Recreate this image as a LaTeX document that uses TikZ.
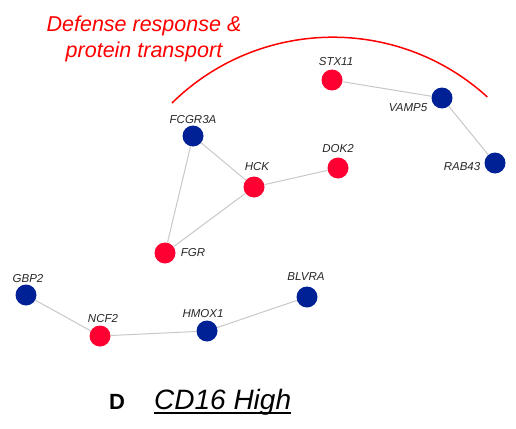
\documentclass[tikz,border=0pt]{standalone}
\usepackage{fontspec}
\setmainfont{Liberation Sans}
\definecolor{nred}{RGB}{255,0,51}
\definecolor{nblue}{RGB}{0,32,150}
\definecolor{edgegray}{RGB}{200,200,200}
\definecolor{titlered}{RGB}{255,0,0}
\begin{document}
\begin{tikzpicture}[x=1pt,y=-1pt,
  gene/.style={circle,minimum size=21pt,inner sep=0pt},
  upg/.style={gene,fill=nred},
  dng/.style={gene,fill=nblue},
  lbl/.style={font=\fontsize{11.5}{13}\selectfont\itshape,text=black!85,inner sep=0pt,anchor=center},
  link/.style={draw=edgegray,line width=1pt},
  ttl/.style={font=\fontsize{21.5}{26}\selectfont\itshape,text=titlered,inner sep=0pt,anchor=base}]
\useasboundingbox (0,0) rectangle (516,428);

% title and bracket arc
\node[ttl] (t1) at (144,32) {Defense response \&};
\node[ttl] (t2) at (144,58) {protein transport};
\coordinate (arcstart) at (172,103);
\draw[titlered,line width=1.5pt] (arcstart) arc[start angle=134.5,end angle=47.7,radius=229.5pt];

% nodes
\node[upg] (stx11) at (332,80) {};
\node[dng] (vamp5) at (442,98) {};
\node[dng] (rab43) at (495,163) {};
\node[dng] (fcgr3a) at (193,136) {};
\node[upg] (hck) at (254,187) {};
\node[upg] (dok2) at (338,168) {};
\node[upg] (fgr) at (165,253) {};
\node[dng] (gbp2) at (26,295) {};
\node[upg] (ncf2) at (100,336) {};
\node[dng] (hmox1) at (207,331) {};
\node[dng] (blvra) at (307,297) {};

% edges
\draw[link] (stx11) -- (vamp5);
\draw[link] (vamp5) -- (rab43);
\draw[link] (fcgr3a) -- (hck);
\draw[link] (fcgr3a) -- (fgr);
\draw[link] (hck) -- (fgr);
\draw[link] (hck) -- (dok2);
\draw[link] (gbp2) -- (ncf2);
\draw[link] (ncf2) -- (hmox1);
\draw[link] (hmox1) -- (blvra);

% labels
\node[lbl] (lstx11) at (336,62) {STX11};
\node[lbl] (lvamp5) at (408,108) {VAMP5};
\node[lbl] (lrab43) at (462,167) {RAB43};
\node[lbl] (lfcgr3a) at (193,120) {FCGR3A};
\node[lbl] (lhck) at (257,167) {HCK};
\node[lbl] (ldok2) at (338,149) {DOK2};
\node[lbl] (lfgr) at (193,253) {FGR};
\node[lbl] (lgbp2) at (28,279) {GBP2};
\node[lbl] (lncf2) at (103,319) {NCF2};
\node[lbl] (lhmox1) at (203,314) {HMOX1};
\node[lbl] (lblvra) at (306,277) {BLVRA};

% panel caption
\node[font=\fontsize{22}{26}\selectfont\bfseries,inner sep=0pt,anchor=base west] (panel) at (109,409) {D};
\node[font=\fontsize{28}{32}\selectfont\itshape,inner sep=0pt,anchor=base west] (cap) at (154,409) {CD16 High};
\draw[line width=2pt] ([yshift=-4pt]cap.base west) -- ([yshift=-4pt]cap.base east);
\end{tikzpicture}
\end{document}
